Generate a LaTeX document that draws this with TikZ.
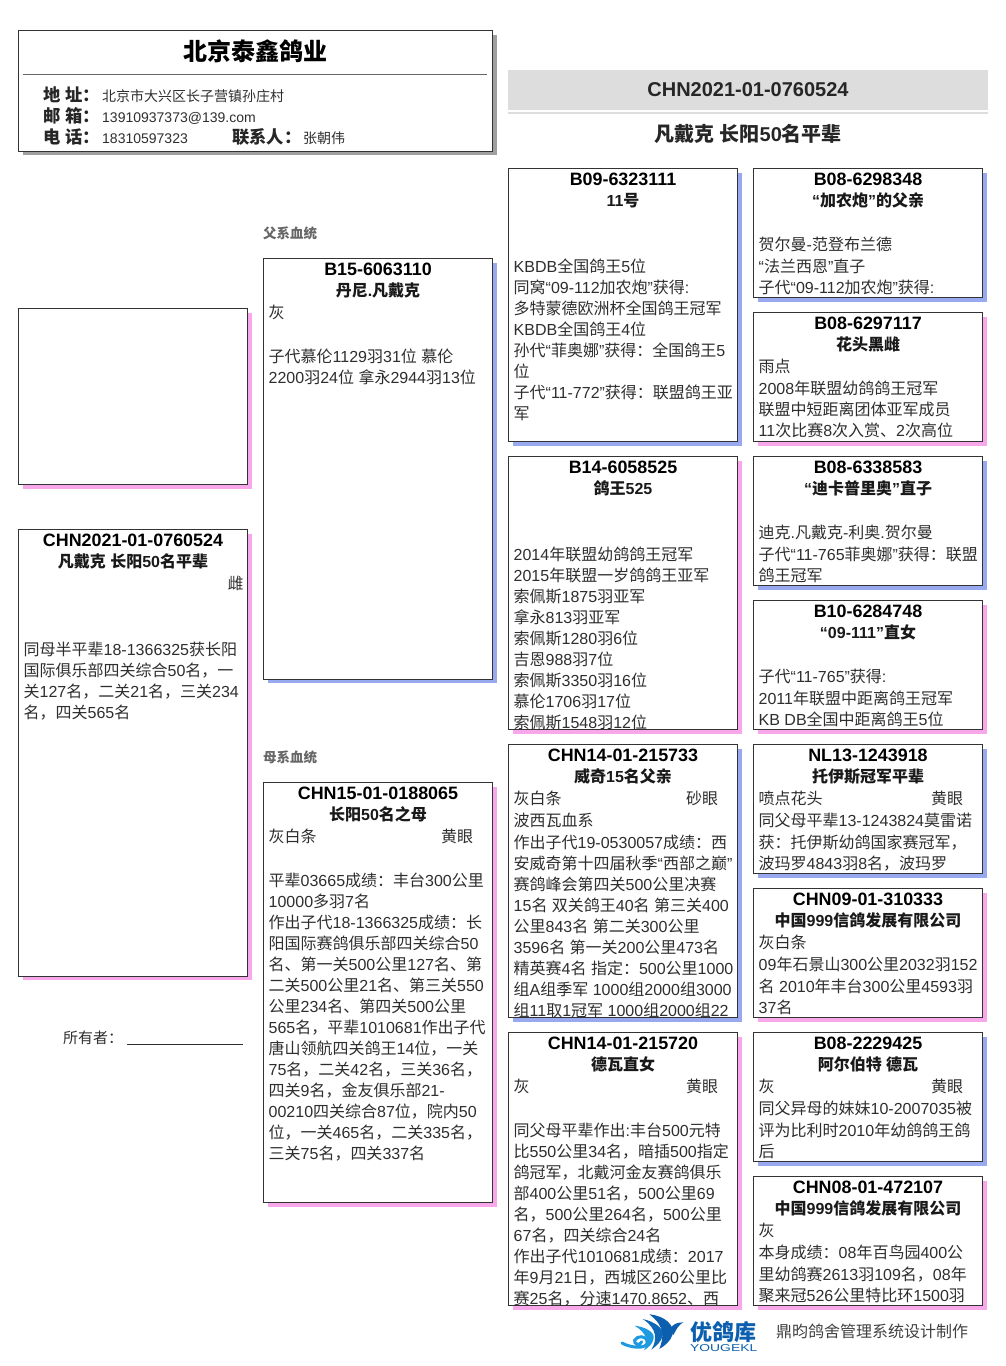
\documentclass[tikz,border=0pt]{standalone}
\usepackage{fontspec}
\setmainfont{Liberation Sans}
\newfontfamily\cjk{Noto Sans CJK SC}
\usetikzlibrary{positioning}

\newXeTeXintercharclass\cjkclass
\newcount\cjkchar
\cjkchar="4E00
\loop
\XeTeXcharclass\cjkchar=\cjkclass
\advance\cjkchar by 1
\ifnum\cjkchar<"A000 \repeat
\XeTeXcharclass"3001=\cjkclass
\XeTeXcharclass"FF0C=\cjkclass
\XeTeXcharclass"FF1A=\cjkclass
\XeTeXinterchartoks 0 \cjkclass={\begingroup\cjk}
\XeTeXinterchartoks 4095 \cjkclass={\begingroup\cjk}
\XeTeXinterchartoks \cjkclass 0={\endgroup}
\XeTeXinterchartoks \cjkclass 4095={\endgroup}
\XeTeXinterchartokenstate=1

% full width comma and colon
\newcommand{\dou}{^^^^ff0c}
\newcommand{\mao}{^^^^ff1a}

\definecolor{boxline}{HTML}{333333}
\definecolor{bodyink}{HTML}{2E2E2E}
\definecolor{shadowblue}{HTML}{98A9F0}
\definecolor{shadowpink}{HTML}{F8A8EA}
\definecolor{shadowgray}{HTML}{A0A0A0}
\definecolor{bandgray}{HTML}{DDDDDD}
\definecolor{logodark}{HTML}{0B5FAE}
\definecolor{logolight}{HTML}{1E9BE0}

\tikzset{
pedbox/.style={draw=boxline, line width=1pt, fill=white, anchor=north west, inner sep=0pt, outer sep=0pt, minimum width=229pt},
idtext/.style={anchor=base, inner sep=0pt, font=\fontsize{17.9}{21}\selectfont\bfseries, text=black},
nametext/.style={anchor=base, inner sep=0pt, font=\fontsize{16}{21}\selectfont\bfseries, text=black!90},
bodytext/.style={anchor=north west, inner sep=0pt, align=left, font=\fontsize{16}{21}\selectfont, text=bodyink},
headlabel/.style={anchor=base west, inner sep=0pt, font=\fontsize{17.3}{21}\selectfont\bfseries, text=black!85},
headvalue/.style={anchor=base west, inner sep=0pt, font=\fontsize{14}{18}\selectfont, text=bodyink},
smalllabel/.style={anchor=base west, inner sep=0pt, font=\fontsize{13.5}{16}\selectfont\bfseries, text=black!60},
}

% name, x, y, height, shadow colour, ring number, pigeon name, body
\newcommand{\pedbox}[8]{
\fill[#5] (#2+4,#3+4) rectangle +(229,#4);
\node[pedbox, minimum height=#4 pt] (#1) at (#2,#3) {};
\begin{scope}
\clip (#1.north west) rectangle (#1.south east);
\node[idtext] (#1id) at (#2+114.5,#3+17) {#6};
\node[nametext] (#1name) at (#2+114.5,#3+37.5) {#7};
\node[bodytext] (#1body) at (#2+5,#3+45) {\strut #8};
\end{scope}
}
\newcommand{\eyerow}[2]{\makebox[172.5pt][l]{#1}#2}

\begin{document}
\begin{tikzpicture}[x=1pt,y=-1pt]
\useasboundingbox (0,0) rectangle (1006,1366);

% loft header
\fill[shadowgray] (22.5,34.5) rectangle (496.5,155);
\node[draw=boxline, line width=1pt, fill=white, anchor=north west, inner sep=0pt, outer sep=0pt, minimum width=474pt, minimum height=120.5pt] (loft) at (18.5,30.5) {};
\node[inner sep=0pt, font=\fontsize{24}{28}\selectfont\bfseries] (loftname) at (255,51) {北京泰鑫鸽业};
\draw[black!60] (23,74.5) -- (487,74.5);
\node[headlabel] (addrlabel) at (43,101) {地 址\mao};
\node[headvalue] (addrvalue) at (102,101) {北京市大兴区长子营镇孙庄村};
\node[headlabel] (maillabel) at (43,122) {邮 箱\mao};
\node[headvalue] (mailvalue) at (102,122) {13910937373@139.com};
\node[headlabel] (phonelabel) at (43,143) {电 话\mao};
\node[headvalue] (phonevalue) at (102,143) {18310597323};
\node[headlabel] (contactlabel) at (232,143) {联系人\mao};
\node[headvalue] (contactvalue) at (303,143) {张朝伟};

% pigeon heading
\node[fill=bandgray, inner sep=0pt, minimum width=480pt, minimum height=40pt, font=\fontsize{20}{22}\selectfont\bfseries, text=black!85] (ring) at (748,90) {CHN2021-01-0760524};
\fill[bandgray] (508,112) rectangle (988,114);
\node[inner sep=0pt, font=\fontsize{20}{24}\selectfont\bfseries, text=black!85] (pigeon) at (748,134) {凡戴克 长阳50名平辈};

% first column
\pedbox{photo}{18.5}{308.5}{176}{shadowpink}{}{}{}
\pedbox{self}{18.5}{529.5}{446.5}{shadowpink}{CHN2021-01-0760524}{凡戴克 长阳50名平辈}{\makebox[220pt][r]{雌}\\[1pt]
\mbox{}\\[1pt]
\mbox{}\\[1pt]
同母半平辈18-1366325获长阳\\
国际俱乐部四关综合50名\dou 一\\
关127名\dou 二关21名\dou 三关234\\
名\dou 四关565名}
\node[anchor=base west, inner sep=0pt, font=\fontsize{15}{18}\selectfont, text=bodyink] (owner) at (63,1043) {所有者\mao\hspace{4pt}\rule[-2pt]{116pt}{1pt}};

% parents
\node[smalllabel] (sireside) at (263,238) {父系血统};
\pedbox{sire}{263.5}{258.5}{420.5}{shadowblue}{B15-6063110}{丹尼.凡戴克}{灰\\[1pt]
\mbox{}\\[1pt]
子代慕伦1129羽31位 慕伦\\
2200羽24位 拿永2944羽13位}
\node[smalllabel] (damside) at (263,762) {母系血统};
\pedbox{dam}{263.5}{782.5}{420}{shadowpink}{CHN15-01-0188065}{长阳50名之母}{\eyerow{灰白条}{黄眼}\\[1pt]
\mbox{}\\[1pt]
平辈03665成绩\mao 丰台300公里\\
10000多羽7名\\
作出子代18-1366325成绩\mao 长\\
阳国际赛鸽俱乐部四关综合50\\
名、第一关500公里127名、第\\
二关500公里21名、第三关550\\
公里234名、第四关500公里\\
565名\dou 平辈1010681作出子代\\
唐山领航四关鸽王14位\dou 一关\\
75名\dou 二关42名\dou 三关36名\dou\\
四关9名\dou 金友俱乐部21-\\
00210四关综合87位\dou 院内50\\
位\dou 一关465名\dou 二关335名\dou\\
三关75名\dou 四关337名}

% grandparents
\pedbox{ss}{508.5}{168.5}{273}{shadowblue}{B09-6323111}{11号}{\mbox{}\\[1pt]
\mbox{}\\[1pt]
KBDB全国鸽王5位\\
同窝“09-112加农炮”获得:\\
多特蒙德欧洲杯全国鸽王冠军\\
KBDB全国鸽王4位\\
孙代“菲奥娜”获得\mao 全国鸽王5\\
位\\
子代“11-772”获得\mao 联盟鸽王亚\\
军}
\pedbox{sd}{508.5}{456.5}{273}{shadowpink}{B14-6058525}{鸽王525}{\mbox{}\\[1pt]
\mbox{}\\[1pt]
2014年联盟幼鸽鸽王冠军\\
2015年联盟一岁鸽鸽王亚军\\
索佩斯1875羽亚军\\
拿永813羽亚军\\
索佩斯1280羽6位\\
吉恩988羽7位\\
索佩斯3350羽16位\\
慕伦1706羽17位\\
索佩斯1548羽12位}
\pedbox{ds}{508.5}{744.5}{273}{shadowblue}{CHN14-01-215733}{威奇15名父亲}{\eyerow{灰白条}{砂眼}\\[1pt]
波西瓦血系\\[1pt]
作出子代19-0530057成绩\mao 西\\
安威奇第十四届秋季“西部之巅”\\
赛鸽峰会第四关500公里决赛\\
15名 双关鸽王40名 第三关400\\
公里843名 第二关300公里\\
3596名 第一关200公里473名\\
精英赛4名 指定\mao 500公里1000\\
组A组季军 1000组2000组3000\\
组11取1冠军 1000组2000组22}
\pedbox{dd}{508.5}{1032.5}{273}{shadowpink}{CHN14-01-215720}{德瓦直女}{\eyerow{灰}{黄眼}\\[1pt]
\mbox{}\\[1pt]
同父母平辈作出:丰台500元特\\
比550公里34名\dou 暗插500指定\\
鸽冠军\dou 北戴河金友赛鸽俱乐\\
部400公里51名\dou 500公里69\\
名\dou 500公里264名\dou 500公里\\
67名\dou 四关综合24名\\
作出子代1010681成绩\mao 2017\\
年9月21日\dou 西城区260公里比\\
赛25名\dou 分速1470.8652、西}

% great grandparents
\pedbox{sss}{753.5}{168.5}{129}{shadowblue}{B08-6298348}{“加农炮”的父亲}{\mbox{}\\[1pt]
贺尔曼-范登布兰德\\[1pt]
“法兰西恩”直子\\
子代“09-112加农炮”获得:}
\pedbox{ssd}{753.5}{312.5}{129}{shadowpink}{B08-6297117}{花头黑雌}{雨点\\[1pt]
2008年联盟幼鸽鸽王冠军\\
联盟中短距离团体亚军成员\\
11次比赛8次入赏、2次高位}
\pedbox{sds}{753.5}{456.5}{129}{shadowblue}{B08-6338583}{“迪卡普里奥”直子}{\mbox{}\\[1pt]
迪克.凡戴克-利奥.贺尔曼\\[1pt]
子代“11-765菲奥娜”获得\mao 联盟\\
鸽王冠军}
\pedbox{sdd}{753.5}{600.5}{129}{shadowpink}{B10-6284748}{“09-111”直女}{\mbox{}\\[1pt]
子代“11-765”获得:\\[1pt]
2011年联盟中距离鸽王冠军\\
KB DB全国中距离鸽王5位}
\pedbox{dss}{753.5}{744.5}{129}{shadowblue}{NL13-1243918}{托伊斯冠军平辈}{\eyerow{喷点花头}{黄眼}\\[1pt]
同父母平辈13-1243824莫雷诺\\[1pt]
获\mao 托伊斯幼鸽国家赛冠军\dou\\
波玛罗4843羽8名\dou 波玛罗}
\pedbox{dsd}{753.5}{888.5}{129}{shadowpink}{CHN09-01-310333}{中国999信鸽发展有限公司}{灰白条\\[1pt]
09年石景山300公里2032羽152\\[1pt]
名 2010年丰台300公里4593羽\\
37名}
\pedbox{dds}{753.5}{1032.5}{129}{shadowblue}{B08-2229425}{阿尔伯特 德瓦}{\eyerow{灰}{黄眼}\\[1pt]
同父异母的妹妹10-2007035被\\[1pt]
评为比利时2010年幼鸽鸽王鸽\\
后}
\pedbox{ddd}{753.5}{1176.5}{129}{shadowpink}{CHN08-01-472107}{中国999信鸽发展有限公司}{灰\\[1pt]
本身成绩\mao 08年百鸟园400公\\[1pt]
里幼鸽赛2613羽109名\dou 08年\\
聚来冠526公里特比环1500羽}

% logo and credit
\begin{scope}[shift={(610,1305)},scale=0.3333]
\fill[logodark] (118,28) .. controls (165,32) and (195,62) .. (188,88) .. controls (182,108) and (165,122) .. (148,132) .. controls (160,100) and (168,65) .. (118,28) -- cycle;
\fill[logodark!85!logolight] (98,42) .. controls (135,50) and (162,70) .. (158,92) .. controls (154,110) and (140,122) .. (124,134) .. controls (142,105) and (142,70) .. (98,42) -- cycle;
\fill[logolight] (74,62) .. controls (105,66) and (134,80) .. (131,100) .. controls (128,118) and (116,126) .. (102,136) .. controls (116,110) and (112,85) .. (74,62) -- cycle;
\fill[logodark] (180,72) .. controls (188,58) and (200,52) .. (220,52) .. controls (205,60) and (200,72) .. (190,90) -- cycle;
\draw[logolight, line width=3pt, line cap=round] (36,114) .. controls (60,128) and (112,135) .. (112,110) .. controls (112,92) and (80,90) .. (74,106) .. controls (70,118) and (92,124) .. (95,110);
\end{scope}
\node[anchor=base west, inner sep=0pt, font=\fontsize{22}{24}\selectfont\bfseries, text=logodark] (logoname) at (690,1340) {优鸽库};
\node[anchor=base west, inner sep=0pt, text=logodark] (logolatin) at (690,1351) {\resizebox{67pt}{7pt}{YOUGEKL}};
\node[anchor=base west, inner sep=0pt, font=\fontsize{16}{18}\selectfont, text=black!75] (credit) at (776,1337) {鼎昀鸽舍管理系统设计制作};
\end{tikzpicture}
\end{document}
